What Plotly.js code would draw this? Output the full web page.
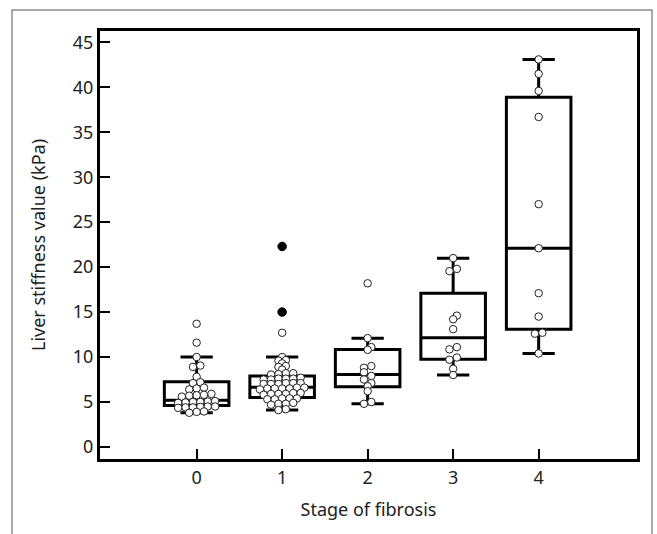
<!DOCTYPE html>
<html>
<head>
<meta charset="utf-8">
<script src="https://cdn.plot.ly/plotly-3.0.1.min.js"></script>
<style>html,body{margin:0;padding:0;background:#fff;}</style>
</head>
<body>
<div id="chart" style="width:657px;height:534px;"></div>
<script>
// ---- Data ----
const stages = [0, 1, 2, 3, 4];
const tickLabels = ['0', '1', '2', '3', '4'];

const lowerWhisker = [3.8, 4.1, 4.8, 8.0, 10.4];
const q1 = [4.6, 5.5, 6.7, 9.75, 13.1];
const medians = [5.2, 6.65, 8.05, 12.15, 22.1];
const q3 = [7.25, 7.9, 10.85, 17.1, 38.9];
const upperWhisker = [10.0, 10.0, 12.1, 21.0, 43.1];

const stage0Values = [13.7, 11.6, 10.0, 9.05, 8.9, 7.8, 7.2, 7.1, 6.6, 6.5, 6.4,
  5.9, 5.8, 5.75, 5.7, 5.6, 5.1, 5.05, 5.0, 5.0, 4.95, 4.9,
  4.5, 4.5, 4.45, 4.4, 4.4, 4.35, 3.95, 3.9, 3.8];
const stage1Values = [12.7, 10.0, 9.65, 9.6, 9.3, 9.0, 8.9, 8.6, 8.2, 8.1, 8.2, 8.05,
  7.6, 7.6, 7.5, 7.6, 7.7, 7.5, 7.1, 7.0, 7.1, 7.0, 7.0, 7.1,
  6.5, 6.5, 6.6, 6.4, 6.5, 6.5, 6.6, 5.9, 6.0, 5.9, 6.0, 5.9, 5.8,
  5.4, 5.4, 5.3, 5.4, 5.3, 4.8, 4.9, 4.8, 4.7, 4.2, 4.1];
const stage1Filled = [22.3, 15.0];
const stage2Values = [18.2, 12.1, 11.1, 10.8, 9.0, 8.8, 8.3, 7.9, 7.5, 7.1, 6.75, 6.2, 5.0, 4.8];
const stage3Values = [21.0, 19.8, 19.55, 14.6, 14.2, 13.1, 11.1, 10.85, 9.95, 9.7, 8.7, 8.0];
const stage4Values = [43.1, 41.5, 39.6, 36.7, 27.0, 22.1, 17.1, 14.5, 12.7, 12.6, 10.4];

// ---- Layout constants ----
const W = 657, H = 534;
const M = {l: 100, r: 20, t: 31, b: 75};
const xRange = [-1.13, 5.15];
const yRange = [-1.34, 46.26];
const plotW = W - M.l - M.r, plotH = H - M.t - M.b;
const xPx = plotW / (xRange[1] - xRange[0]);
const markerSize = 7.5;
const spacingPx = 7.4;     // horizontal spacing of dots in a row
const rowGap = 0.28;       // values closer than this share a row
const zigGap = 0.5;        // close single dots alternate sides

// Prism-like scatter-dot layout computed from the values
function dotOffsets(values) {
  const order = values.map((v, i) => i).sort((a, b) => values[a] - values[b]);
  const bins = [];
  order.forEach(i => {
    const last = bins[bins.length - 1];
    if (last && values[i] - last.max <= rowGap) { last.idx.push(i); last.max = values[i]; }
    else bins.push({idx: [i], min: values[i], max: values[i]});
  });
  const offs = new Array(values.length).fill(0);
  let prev = null;
  bins.forEach(b => {
    const n = b.idx.length;
    if (n === 1) {
      let o = 0;
      if (prev && prev.n === 1 && b.min - prev.max < zigGap) {
        o = prev.off === 0 ? spacingPx / 2 : -prev.off;
      }
      offs[b.idx[0]] = o / xPx;
      prev = {n: 1, max: b.max, off: o};
    } else {
      b.idx.forEach((i, k) => { offs[i] = (k - (n - 1) / 2) * spacingPx / xPx; });
      prev = {n: n, max: b.max, off: 0};
    }
  });
  return offs;
}

const openGroups = [stage0Values, stage1Values, stage2Values, stage3Values, stage4Values];
const openX = [], openY = [];
openGroups.forEach((vals, s) => {
  const offs = dotOffsets(vals);
  vals.forEach((v, i) => { openX.push(stages[s] + offs[i]); openY.push(v); });
});
const filledX = stage1Filled.map(() => stages[1]);

const traces = [
  {
    type: 'box',
    x: stages,
    q1: q1, median: medians, q3: q3,
    lowerfence: lowerWhisker, upperfence: upperWhisker,
    width: 0.755,
    whiskerwidth: 0.5,
    boxpoints: false,
    line: {color: '#000', width: 3},
    fillcolor: 'rgba(0,0,0,0)',
    hoverinfo: 'skip',
    showlegend: false
  },
  {
    type: 'scatter', mode: 'markers',
    x: openX, y: openY,
    marker: {size: markerSize, color: '#fff', line: {color: '#222', width: 1}},
    showlegend: false, hoverinfo: 'skip'
  },
  {
    type: 'scatter', mode: 'markers',
    x: filledX, y: stage1Filled,
    marker: {size: markerSize + 1, color: '#000', line: {color: '#000', width: 1}},
    showlegend: false, hoverinfo: 'skip'
  }
];

const font = {family: '"Noto Sans", "Open Sans", sans-serif', size: 18, color: '#222'};

const layout = {
  width: W, height: H,
  margin: M,
  paper_bgcolor: '#fff', plot_bgcolor: '#fff',
  font: font,
  showlegend: false,
  xaxis: {
    range: xRange,
    tickmode: 'array', tickvals: stages, ticktext: tickLabels,
    ticks: 'inside', ticklen: 10, tickwidth: 2, tickcolor: '#000',
    showline: true, linecolor: '#000', linewidth: 3, mirror: true,
    showgrid: false, zeroline: false,
    tickfont: font,
    title: {text: 'Stage of fibrosis', font: font, standoff: 16}
  },
  yaxis: {
    range: yRange,
    tickmode: 'linear', tick0: 0, dtick: 5,
    ticks: 'inside', ticklen: 10, tickwidth: 2, tickcolor: '#000',
    showline: true, linecolor: '#000', linewidth: 3, mirror: true,
    showgrid: false, zeroline: false,
    tickfont: font,
    title: {text: 'Liver stiffness value (kPa)', font: font, standoff: 23}
  },
  shapes: [{
    type: 'rect', xref: 'paper', yref: 'paper',
    x0: (12 - M.l) / plotW, x1: (652 - M.l) / plotW,
    y0: (M.t + plotH - 560) / plotH, y1: (M.t + plotH - 10) / plotH,
    line: {color: '#8c8c8c', width: 1.5}, fillcolor: 'rgba(0,0,0,0)', layer: 'below'
  }]
};

Plotly.newPlot('chart', traces, layout, {displayModeBar: false, staticPlot: true});
</script>
</body>
</html>
